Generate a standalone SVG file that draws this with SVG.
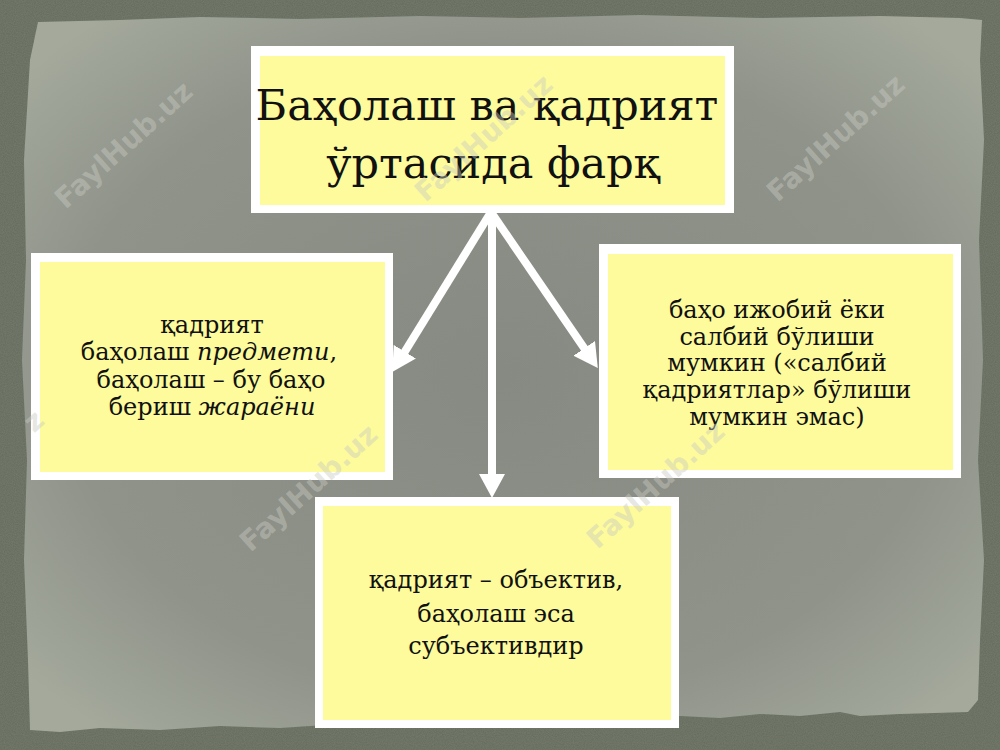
<svg xmlns="http://www.w3.org/2000/svg" width="1000" height="750" viewBox="0 0 1000 750">
<defs>
<style>
.box-outer{fill:#ffffff;}
.box-inner{fill:#fdfb9c;}
.t{font-family:"DejaVu Serif","Liberation Serif",serif;fill:#111111;text-anchor:middle;}
.title{font-size:43px;}
.body{font-size:24px;}
.it{font-style:italic;}
.conn{stroke:#ffffff;stroke-width:8;fill:none;}
.wm{font-family:"DejaVu Sans","Liberation Sans",sans-serif;font-weight:bold;font-size:28px;fill:#c9cac2;fill-opacity:0.45;text-anchor:middle;}
</style>
<marker id="ah" markerUnits="userSpaceOnUse" markerWidth="24" markerHeight="26" viewBox="0 0 24 26" refX="4" refY="13" orient="auto">
<path d="M0,0 L24,13 L0,26 z" fill="#ffffff"/>
</marker>
<radialGradient id="paper" cx="50%" cy="50%" r="65%">
<stop offset="0" stop-color="#878a82"/>
<stop offset="0.7" stop-color="#8f938a"/>
<stop offset="1" stop-color="#a4a99c"/>
</radialGradient>
<filter id="noise" x="0" y="0" width="100%" height="100%">
<feTurbulence type="fractalNoise" baseFrequency="0.9" numOctaves="2" seed="3" result="n"/>
<feColorMatrix in="n" type="matrix" values="0 0 0 0 0.3  0 0 0 0 0.33  0 0 0 0 0.28  0 0 0 0.35 0"/>
<feComposite in2="SourceGraphic" operator="in"/>
</filter>
</defs>
<g id="background">
<rect x="0" y="0" width="1000" height="750" fill="#646b5c"/>
<rect x="0" y="0" width="1000" height="750" fill="#646b5c" filter="url(#noise)"/>
<path d="M38,22 L120,20 L200,17 L300,19 L420,16 L520,18 L640,15 L760,18 L880,16 L960,18 L982,20 L980,60 L984,140 L979,240 L983,360 L978,460 L984,560 L980,640 L978,700 L968,712 L900,714 L860,716 L840,712 L800,716 L760,714 L720,718 L680,716 L640,722 L580,720 L520,724 L460,722 L400,726 L340,724 L280,728 L220,726 L160,730 L100,728 L60,732 L30,730 L28,660 L24,560 L27,460 L22,360 L26,260 L24,160 L30,60 Z" fill="url(#paper)"/>
</g>
<g id="connectors">
<line class="conn" x1="491" y1="212" x2="402.7" y2="355.1" marker-end="url(#ah)"/>
<line class="conn" x1="491" y1="212" x2="586.5" y2="351.6" marker-end="url(#ah)"/>
<line class="conn" x1="492" y1="212" x2="492" y2="478" marker-end="url(#ah)"/>
</g>
<g id="node-title">
<rect class="box-outer" x="251" y="46" width="483" height="167"/>
<rect class="box-inner" x="260" y="56" width="465" height="149"/>
<text class="t title" x="487" y="120">Баҳолаш ва қадрият</text>
<text class="t title" x="493" y="178">ўртасида фарқ</text>
</g>
<g id="node-left">
<rect class="box-outer" x="31" y="253" width="362" height="227"/>
<rect class="box-inner" x="40" y="262" width="345" height="210"/>
<text class="t body" x="212" y="333">қадрият</text>
<text class="t body" x="209" y="360">баҳолаш <tspan class="it">предмети</tspan>,</text>
<text class="t body" x="211" y="388">баҳолаш – бу баҳо</text>
<text class="t body" x="212" y="415">бериш <tspan class="it">жараёни</tspan></text>
</g>
<g id="node-right">
<rect class="box-outer" x="599" y="244" width="362" height="234"/>
<rect class="box-inner" x="608" y="254" width="345" height="216"/>
<text class="t body" x="777" y="318">баҳо ижобий ёки</text>
<text class="t body" x="777" y="345">салбий бўлиши</text>
<text class="t body" x="777" y="371">мумкин («салбий</text>
<text class="t body" x="777" y="398">қадриятлар» бўлиши</text>
<text class="t body" x="777" y="425">мумкин эмас)</text>
</g>
<g id="node-bottom">
<rect class="box-outer" x="315" y="497" width="364" height="231"/>
<rect class="box-inner" x="323" y="506" width="348" height="214"/>
<text class="t body" x="496" y="588">қадрият – объектив,</text>
<text class="t body" x="496" y="622">баҳолаш эса</text>
<text class="t body" x="496" y="654">субъективдир</text>
</g>
<g id="watermarks">
<text class="wm" transform="translate(130,152) rotate(-42)">FaylHub.uz</text>
<text class="wm" transform="translate(490,145) rotate(-42)">FaylHub.uz</text>
<text class="wm" transform="translate(842,145) rotate(-42)">FaylHub.uz</text>
<text class="wm" transform="translate(315,495) rotate(-42)">FaylHub.uz</text>
<text class="wm" transform="translate(662,492) rotate(-42)">FaylHub.uz</text>
<text class="wm" transform="translate(40,428) rotate(-42)">z</text>
</g>
</svg>
